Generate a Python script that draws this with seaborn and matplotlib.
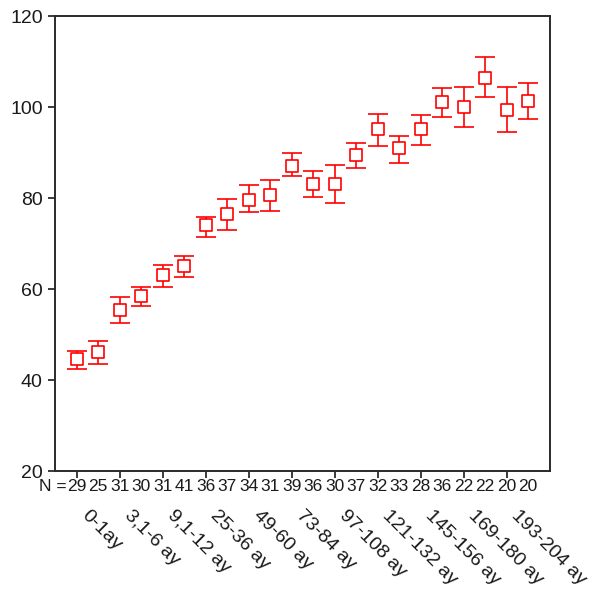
import matplotlib
matplotlib.use("Agg")
import matplotlib.pyplot as plt
import matplotlib.transforms as mtransforms
import seaborn as sns
import pandas as pd

# group sizes and means with error limits
counts = [29, 25, 31, 30, 31, 41, 36, 37, 34, 31, 39, 36, 30, 37, 32, 33, 28, 36, 22, 22, 20, 20]
means = [44.6, 46.1, 55.4, 58.5, 63.0, 65.0, 74.0, 76.5, 79.6, 80.6, 87.0, 83.1,
         83.0, 89.4, 95.1, 91.0, 95.1, 101.0, 100.0, 106.4, 99.3, 101.3]
upper = [46.4, 48.6, 58.2, 60.5, 65.2, 67.2, 75.9, 79.7, 82.9, 83.9, 89.9, 85.9,
         87.2, 92.2, 98.5, 93.6, 98.2, 104.1, 104.4, 111.0, 104.4, 105.2]
lower = [42.5, 43.6, 52.6, 56.3, 60.5, 62.6, 71.4, 73.0, 76.9, 77.2, 84.8, 80.3,
         78.9, 86.7, 91.5, 87.7, 91.6, 97.9, 95.6, 102.2, 94.6, 97.4]
tick_labels = ["0-1ay", "3,1-6 ay", "9,1-12 ay", "25-36 ay", "49-60 ay", "73-84 ay",
               "97-108 ay", "121-132 ay", "145-156 ay", "169-180 ay", "193-204 ay"]

df = pd.DataFrame({"pos": range(len(means)), "mean": means, "hi": upper, "lo": lower})

sns.set_style("ticks")
plt.rcParams["font.family"] = ["Liberation Sans", "DejaVu Sans"]

fig = plt.figure(figsize=(5.93, 5.94), dpi=100)
ax = fig.add_axes([0.093, 0.207, 0.834, 0.766])

red = "#ff0000"
ax.errorbar(df["pos"], df["mean"], yerr=[df["mean"] - df["lo"], df["hi"] - df["mean"]],
            fmt="none", ecolor=red, elinewidth=1.2, capsize=7, capthick=1.2)
sns.scatterplot(data=df, x="pos", y="mean", marker="s", s=70, facecolor="white",
                edgecolor=red, linewidth=1.2, ax=ax, zorder=3)

ax.set_xlim(-1, 22)
ax.set_ylim(20, 120)
ax.set_yticks([20, 40, 60, 80, 100, 120])
ax.set_xticks(range(0, 21, 2))
ax.set_xticklabels([])
ax.set_xlabel("")
ax.set_ylabel("")
ax.tick_params(axis="y", labelsize=14, length=5, width=1.2, pad=4, colors="#1a1a1a")
ax.tick_params(axis="x", length=5, width=1.2, colors="#1a1a1a")
for sp in ax.spines.values():
    sp.set_visible(True)
    sp.set_linewidth(1.4)
    sp.set_color("#2a2a2a")

trans = mtransforms.blended_transform_factory(ax.transData, ax.transAxes)
ax.text(-0.45, -0.035, "N =", transform=trans, ha="right", va="center", fontsize=12.5, color="#1a1a1a")
for i, n in enumerate(counts):
    ax.text(i, -0.035, str(n), transform=trans, ha="center", va="center", fontsize=12.5, color="#1a1a1a")

for k, lab in enumerate(tick_labels):
    ax.text(2 * k + 0.35, -0.092, lab, transform=trans, rotation=-45, rotation_mode="anchor",
            ha="left", va="center", fontsize=14, color="#1a1a1a")

fig.savefig("out.png", dpi=100)
